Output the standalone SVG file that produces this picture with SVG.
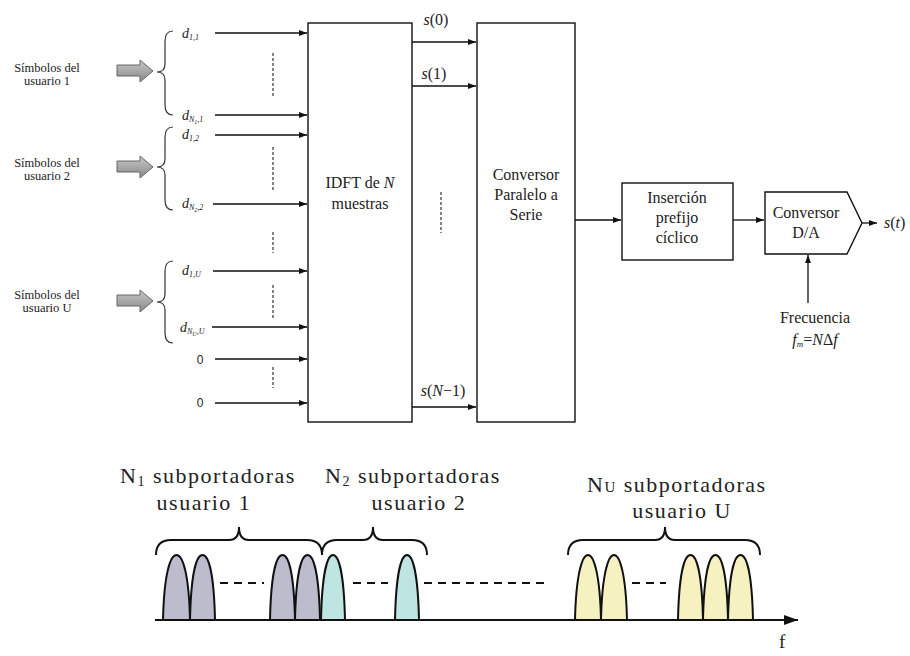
<svg xmlns="http://www.w3.org/2000/svg" width="910" height="656" viewBox="0 0 910 656" font-family="'Liberation Serif', 'Times New Roman', serif">
<defs>
<marker id="ah" viewBox="0 0 8 6" refX="8" refY="3" markerWidth="8" markerHeight="6" markerUnits="userSpaceOnUse" orient="auto">
<path d="M0,0 L8,3 L0,6 Z" fill="#111"/>
</marker>
<marker id="big" viewBox="0 0 14 10" refX="14" refY="5" markerWidth="14" markerHeight="10" markerUnits="userSpaceOnUse" orient="auto">
<path d="M0,0 L14,5 L0,10 Z" fill="#111"/>
</marker>
<linearGradient id="gg" x1="0" y1="0" x2="0" y2="1">
<stop offset="0" stop-color="#c8c8c8"/>
<stop offset="0.5" stop-color="#a8a8a8"/>
<stop offset="1" stop-color="#8a8a8a"/>
</linearGradient>
</defs>
<style>
text{font-family:"Liberation Serif","Times New Roman",serif;fill:#222}
.sm{font-size:12.5px}
.md{font-size:16px}
.it{font-style:italic}
.lbl{font-size:14px;font-style:italic}
.sub{font-size:8px;font-style:italic}
.big{font-size:22px;letter-spacing:1.5px}
.zero{font-family:"Liberation Sans",Arial,sans-serif;font-size:12px;fill:#222}
.box{fill:#fff;stroke:#111;stroke-width:1.4}
.ln{stroke:#111;stroke-width:1.3;fill:none}
.dsh{stroke:#333;stroke-width:1.2;stroke-dasharray:3,2;fill:none}
.brace{stroke:#333;stroke-width:1.2;fill:none}
.gar{fill:url(#gg);stroke:#666;stroke-width:1}
.hbr{stroke:#111;stroke-width:2;fill:none}
.lobe{stroke:#111;stroke-width:2}
.g1{fill:#bcbccd}
.g2{fill:#bfe5e3}
.g3{fill:#f6f1c1}
.hd{stroke:#111;stroke-width:2;stroke-dasharray:8,6;fill:none}
</style>
<rect width="910" height="656" fill="#fff"/>

<g id="user1">
<text class="sm" x="47" y="72" text-anchor="middle">Símbolos del</text>
<text class="sm" x="47" y="85" text-anchor="middle">usuario 1</text>
<polygon class="gar" points="117,65 140,65 140,60 153,71 140,82 140,76 117,76"/>
<path class="brace" d="M173,31 Q165,31 165,41 L165,64 Q165,72 157,72 Q165,72 165,80 L165,105 Q165,115 173,115"/>
</g>
<g id="user2">
<text class="sm" x="47" y="167" text-anchor="middle">Símbolos del</text>
<text class="sm" x="47" y="180" text-anchor="middle">usuario 2</text>
<polygon class="gar" points="117,161 140,161 140,156 153,167 140,178 140,172 117,172"/>
<path class="brace" d="M173,127 Q165,127 165,137 L165,159 Q165,167 157,167 Q165,167 165,175 L165,200 Q165,210 173,210"/>
</g>
<g id="userU">
<text class="sm" x="47" y="299" text-anchor="middle">Símbolos del</text>
<text class="sm" x="47" y="312" text-anchor="middle">usuario U</text>
<polygon class="gar" points="117,295 140,295 140,290 153,301 140,312 140,306 117,306"/>
<path class="brace" d="M173,261 Q165,261 165,271 L165,294 Q165,302 157,302 Q165,302 165,310 L165,333 Q165,343 173,343"/>
</g>

<g id="input-labels">
<text class="lbl" x="182" y="38">d<tspan class="sub" dy="2">1,1</tspan></text>
<text class="lbl" x="182" y="120">d<tspan class="sub" dy="2">N<tspan font-size="6" dy="2">1</tspan><tspan dy="-2">,1</tspan></tspan></text>
<text class="lbl" x="182" y="139">d<tspan class="sub" dy="2">1,2</tspan></text>
<text class="lbl" x="182" y="208">d<tspan class="sub" dy="2">N<tspan font-size="6" dy="2">2</tspan><tspan dy="-2">,2</tspan></tspan></text>
<text class="lbl" x="182" y="275">d<tspan class="sub" dy="2">1,U</tspan></text>
<text class="lbl" x="180" y="332">d<tspan class="sub" dy="2">N<tspan font-size="6" dy="2">U</tspan><tspan dy="-2">,U</tspan></tspan></text>
<text class="zero" x="200" y="364" text-anchor="middle">0</text>
<text class="zero" x="200" y="407" text-anchor="middle">0</text>
</g>

<g id="idft">
<rect class="box" x="308" y="23" width="104" height="399"/>
<text class="md" x="360" y="188" text-anchor="middle">IDFT de <tspan class="it">N</tspan></text>
<text class="md" x="360" y="209" text-anchor="middle">muestras</text>
</g>

<g id="ps">
<rect class="box" x="477" y="23" width="98" height="399"/>
<text class="md" x="526" y="180" text-anchor="middle">Conversor</text>
<text class="md" x="526" y="200" text-anchor="middle">Paralelo a</text>
<text class="md" x="526" y="220" text-anchor="middle">Serie</text>
</g>

<g id="cp">
<rect class="box" x="622" y="183" width="111" height="77"/>
<text class="md" x="677" y="203" text-anchor="middle">Inserción</text>
<text class="md" x="677" y="223" text-anchor="middle">prefijo</text>
<text class="md" x="677" y="243" text-anchor="middle">cíclico</text>
</g>

<g id="da">
<path class="box" d="M765,192 L847,192 L862,223 L847,254 L765,254 Z"/>
<text class="md" x="806" y="218" text-anchor="middle">Conversor</text>
<text class="md" x="806" y="238" text-anchor="middle">D/A</text>
</g>

<g id="out-labels">
<text class="md it" x="436" y="25" text-anchor="middle">s<tspan font-style="normal">(0)</tspan></text>
<text class="md it" x="434" y="79" text-anchor="middle">s<tspan font-style="normal">(1)</tspan></text>
<text class="md it" x="443" y="396" text-anchor="middle">s<tspan font-style="normal">(</tspan>N<tspan font-style="normal">−1)</tspan></text>
<text class="md" x="884" y="228"><tspan class="it">s</tspan>(<tspan class="it">t</tspan>)</text>
<text class="md" x="815" y="323" text-anchor="middle">Frecuencia</text>
<text class="md it" x="815" y="345" text-anchor="middle">f<tspan font-size="9" dy="2">m</tspan><tspan dy="-2" font-style="normal">=</tspan>N<tspan font-style="normal">Δ</tspan>f</text>
</g>

<g id="connectors">
<line class="ln" x1="215" y1="33" x2="307" y2="33" marker-end="url(#ah)"/>
<line class="ln" x1="215" y1="115" x2="307" y2="115" marker-end="url(#ah)"/>
<line class="ln" x1="215" y1="135" x2="307" y2="135" marker-end="url(#ah)"/>
<line class="ln" x1="213" y1="204" x2="307" y2="204" marker-end="url(#ah)"/>
<line class="ln" x1="213" y1="271" x2="307" y2="271" marker-end="url(#ah)"/>
<line class="ln" x1="212" y1="327" x2="307" y2="327" marker-end="url(#ah)"/>
<line class="ln" x1="215" y1="359" x2="307" y2="359" marker-end="url(#ah)"/>
<line class="ln" x1="215" y1="403" x2="307" y2="403" marker-end="url(#ah)"/>
<line class="dsh" x1="273" y1="53" x2="273" y2="98"/>
<line class="dsh" x1="273" y1="147" x2="273" y2="190"/>
<line class="dsh" x1="273" y1="232" x2="273" y2="253"/>
<line class="dsh" x1="273" y1="285" x2="273" y2="318"/>
<line class="dsh" x1="273" y1="367" x2="273" y2="388"/>
<line class="ln" x1="412" y1="42" x2="476" y2="42" marker-end="url(#ah)"/>
<line class="ln" x1="412" y1="86" x2="476" y2="86" marker-end="url(#ah)"/>
<line class="ln" x1="412" y1="407" x2="476" y2="407" marker-end="url(#ah)"/>
<line class="dsh" x1="441" y1="192" x2="441" y2="233"/>
<line class="ln" x1="575" y1="220" x2="621" y2="220" marker-end="url(#ah)"/>
<line class="ln" x1="733" y1="220" x2="764" y2="220" marker-end="url(#ah)"/>
<line class="ln" x1="862" y1="223" x2="877" y2="223" marker-end="url(#ah)"/>
<line class="ln" x1="808" y1="303" x2="808" y2="255" marker-end="url(#ah)"/>
</g>

<g id="spectrum">
<text class="big" x="120" y="483">N<tspan font-size="14" dy="3">1</tspan><tspan dy="-3"> subportadoras</tspan></text>
<text class="big" x="204" y="510" text-anchor="middle">usuario 1</text>
<text class="big" x="325" y="483">N<tspan font-size="14" dy="3">2</tspan><tspan dy="-3"> subportadoras</tspan></text>
<text class="big" x="419" y="510" text-anchor="middle">usuario 2</text>
<text class="big" x="587" y="492">N<tspan font-size="15">U</tspan> subportadoras</text>
<text class="big" x="682" y="518" text-anchor="middle">usuario U</text>

<path class="hbr" d="M156,555 Q156,540 171,540 L229,540 Q239,540 239,527 Q239,540 249,540 L307,540 Q322,540 322,555"/>
<path class="hbr" d="M322,555 Q322,540 337,540 L363,540 Q373,540 373,527 Q373,540 383,540 L412,540 Q427,540 427,555"/>
<path class="hbr" d="M568,555 Q568,540 583,540 L655,540 Q665,540 665,527 Q665,540 675,540 L745,540 Q760,540 760,555"/>

<g class="lobe g1">
<path d="M163,620 C164,575 170,555 176.5,555 C183,555 189,575 190,620 Z"/>
<path d="M190,620 C191,575 196,555 202.5,555 C209,555 214,575 215,620 Z"/>
<path d="M270,620 C271,575 276,555 282.5,555 C289,555 294,575 295,620 Z"/>
<path d="M295,620 C296,575 301,555 307.5,555 C314,555 319,575 320,620 Z"/>
</g>
<g class="lobe g2">
<path d="M321,620 C322,575 327,555 333,555 C339,555 344,575 345,620 Z"/>
<path d="M395,620 C396,575 401,555 407,555 C413,555 418,575 419,620 Z"/>
</g>
<g class="lobe g3">
<path d="M575,620 C576,575 582,555 588,555 C594,555 600,575 601,620 Z"/>
<path d="M601,620 C602,575 608,555 614,555 C620,555 626,575 627,620 Z"/>
<path d="M678,620 C679,575 684,555 690.5,555 C697,555 702,575 703,620 Z"/>
<path d="M703,620 C704,575 709,555 715.5,555 C722,555 727,575 728,620 Z"/>
<path d="M728,620 C729,575 734,555 740.5,555 C747,555 752,575 753,620 Z"/>
</g>
<line class="hd" x1="220" y1="583" x2="264" y2="583"/>
<line class="hd" x1="353" y1="583" x2="388" y2="583"/>
<line class="hd" x1="424" y1="583" x2="550" y2="583"/>
<line class="hd" x1="632" y1="583" x2="666" y2="583"/>
<line x1="155" y1="620" x2="798" y2="620" stroke="#111" stroke-width="2" marker-end="url(#big)"/>
<text x="779" y="648" font-size="19">f</text>
</g>
</svg>
